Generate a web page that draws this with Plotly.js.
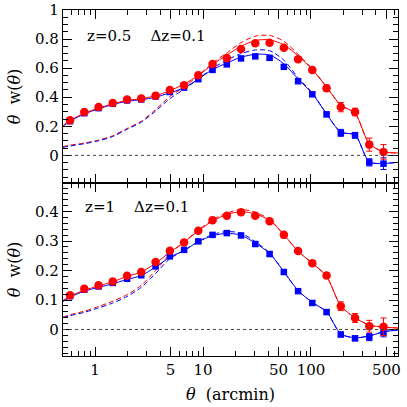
<!DOCTYPE html>
<html><head><meta charset="utf-8">
<script src="https://cdn.plot.ly/plotly-3.0.1.min.js"></script>
<style>html,body{margin:0;padding:0;background:#fff}#chart{width:407px;height:407px}</style>
</head><body><div id="chart"></div>
<script>
// angular bins (arcmin)
const theta = [0.587,0.795,1.078,1.46,1.98,2.68,3.64,4.93,6.68,9.05,12.26,16.62,22.5,30.5,41.4,56.1,76.0,102.9,139.5,189,256,347,470];
// model grid: bins plus the axis edges
const thetaModel = [0.505].concat(theta, [640]);

// top panel z=0.5
const topRed    = [0.242,0.298,0.332,0.360,0.385,0.392,0.411,0.450,0.482,0.552,0.628,0.669,0.731,0.771,0.775,0.741,0.662,0.588,0.462,0.332,0.298,0.074,0.024];
const topRedErr = [0.008,0.008,0.008,0.008,0.008,0.008,0.008,0.008,0.008,0.009,0.010,0.010,0.011,0.012,0.013,0.014,0.016,0.018,0.022,0.032,0.026,0.045,0.05];
const topBlue   = [0.235,0.290,0.325,0.355,0.378,0.385,0.405,0.436,0.466,0.524,0.588,0.626,0.667,0.681,0.671,0.609,0.510,0.420,0.282,0.155,0.138,-0.048,-0.057];
const topBlueErr= [0.006,0.006,0.006,0.006,0.006,0.006,0.006,0.006,0.006,0.007,0.008,0.008,0.009,0.010,0.010,0.011,0.012,0.014,0.016,0.024,0.02,0.025,0.04];
const topRedModel   = [0.205,0.24,0.29,0.325,0.355,0.378,0.39,0.41,0.445,0.49,0.55,0.625,0.69,0.75,0.79,0.795,0.76,0.685,0.59,0.47,0.345,0.29,0.08,0.025,0.017];
const topRedDash    = [0.06,0.07,0.085,0.105,0.135,0.185,0.235,0.315,0.405,0.47,0.55,0.635,0.705,0.775,0.82,0.825,0.785,0.695,0.595,0.47,0.345,0.29,0.08,0.025,0.017];
const topBlueModel  = [0.2,0.235,0.285,0.32,0.35,0.372,0.383,0.4,0.43,0.465,0.525,0.59,0.635,0.675,0.695,0.69,0.63,0.525,0.425,0.285,0.16,0.14,-0.045,-0.055,-0.048];
const topBlueDash   = [0.055,0.065,0.08,0.1,0.13,0.18,0.228,0.305,0.39,0.455,0.525,0.6,0.655,0.7,0.725,0.72,0.655,0.535,0.43,0.285,0.16,0.14,-0.045,-0.055,-0.048];

// bottom panel z=1
const botRed    = [0.116,0.138,0.150,0.163,0.182,0.195,0.229,0.267,0.295,0.335,0.371,0.386,0.398,0.386,0.367,0.321,0.266,0.225,0.183,0.079,0.039,0.011,0.009];
const botRedErr = [0.004,0.004,0.004,0.004,0.004,0.004,0.004,0.004,0.004,0.005,0.005,0.005,0.005,0.005,0.006,0.006,0.007,0.007,0.008,0.015,0.015,0.02,0.03];
const botBlue   = [0.113,0.135,0.146,0.158,0.172,0.184,0.214,0.248,0.270,0.299,0.321,0.327,0.319,0.290,0.256,0.195,0.130,0.090,0.059,-0.017,-0.030,-0.026,-0.010];
const botBlueErr= [0.003,0.003,0.003,0.003,0.003,0.003,0.003,0.003,0.003,0.004,0.004,0.004,0.004,0.004,0.005,0.005,0.005,0.006,0.006,0.008,0.008,0.012,0.015];
const botRedModel  = [0.098,0.113,0.133,0.148,0.162,0.18,0.195,0.225,0.262,0.296,0.335,0.368,0.39,0.40,0.392,0.37,0.322,0.265,0.225,0.18,0.08,0.04,0.015,0.008,0.005];
const botRedDash   = [0.042,0.05,0.062,0.078,0.096,0.118,0.15,0.2,0.255,0.297,0.337,0.372,0.395,0.407,0.398,0.373,0.322,0.265,0.225,0.18,0.08,0.04,0.015,0.008,0.005];
const botBlueModel = [0.095,0.11,0.13,0.143,0.155,0.17,0.183,0.212,0.245,0.268,0.298,0.318,0.326,0.32,0.293,0.258,0.196,0.132,0.092,0.06,-0.015,-0.028,-0.022,-0.008,-0.002];
const botBlueDash  = [0.04,0.047,0.058,0.073,0.09,0.112,0.143,0.19,0.24,0.268,0.298,0.322,0.332,0.327,0.298,0.26,0.196,0.132,0.092,0.06,-0.015,-0.028,-0.022,-0.008,-0.002];

const xTickVals = [1,5,10,50,100,500];
const xTickText = ['1','5','10','50','100','500'];
const xMinor = [0.6,0.7,0.8,0.9,2,3,4,6,7,8,9,20,30,40,60,70,80,90,200,300,400,600];

const RED = '#ff0000', BLUE = '#0000ff';
const FONT = 'DejaVu Serif, Liberation Serif, serif';

function pts(y, err, color, sym, size, xa, ya) {
  return {x: theta, y: y, xaxis: xa, yaxis: ya, type: 'scatter', mode: 'markers',
    marker: {color: color, symbol: sym, size: size},
    error_y: {type: 'data', array: err, color: color, thickness: 1, width: 3},
    showlegend: false, hoverinfo: 'skip'};
}
function line(y, color, dash, xa, ya) {
  return {x: thetaModel, y: y, xaxis: xa, yaxis: ya, type: 'scatter', mode: 'lines',
    line: {color: color, width: 1, dash: dash, shape: 'spline', smoothing: 0.8},
    showlegend: false, hoverinfo: 'skip'};
}

const data = [
  line(topRedDash, RED, '5px,3px', 'x', 'y'),
  line(topBlueDash, BLUE, '5px,3px', 'x', 'y'),
  line(topBlueModel, BLUE, 'solid', 'x', 'y'),
  line(topRedModel, RED, 'solid', 'x', 'y'),
  pts(topBlue, topBlueErr, BLUE, 'square', 6.5, 'x', 'y'),
  pts(topRed, topRedErr, RED, 'circle', 8.5, 'x', 'y'),
  line(botRedDash, RED, '5px,3px', 'x2', 'y2'),
  line(botBlueDash, BLUE, '5px,3px', 'x2', 'y2'),
  line(botBlueModel, BLUE, 'solid', 'x2', 'y2'),
  line(botRedModel, RED, 'solid', 'x2', 'y2'),
  pts(botBlue, botBlueErr, BLUE, 'square', 6.5, 'x2', 'y2'),
  pts(botRed, botRedErr, RED, 'circle', 8.5, 'x2', 'y2')
];

const xrange = [Math.log10(0.505), Math.log10(640)];
function xax(showLabels, anchor) {
  return {type: 'log', range: xrange, anchor: anchor, domain: [0,1],
    tickmode: 'array', tickvals: xTickVals, ticktext: xTickText, showticklabels: showLabels,
    ticks: 'inside', ticklen: 9, tickwidth: 1, tickcolor: '#000',
    minor: {tickvals: xMinor, ticks: 'inside', ticklen: 5, tickwidth: 1, tickcolor: '#000', showgrid: false},
    showline: true, linecolor: '#000', linewidth: 1.2, mirror: 'allticks',
    showgrid: false, zeroline: false,
    tickfont: {family: FONT, size: 15, color: '#000'}};
}
function yax(range, dtick, minorDtick, domain, anchor) {
  return {range: range, domain: domain, anchor: anchor,
    tickmode: 'linear', tick0: 0, dtick: dtick,
    ticks: 'inside', ticklen: 9, tickwidth: 1, tickcolor: '#000',
    minor: {tick0: 0, dtick: minorDtick, ticks: 'inside', ticklen: 5, tickwidth: 1, tickcolor: '#000', showgrid: false},
    showline: true, linecolor: '#000', linewidth: 1.2, mirror: 'allticks',
    showgrid: false, zeroline: false,
    tickfont: {family: FONT, size: 15, color: '#000'},
    title: {text: '<i>θ</i>  w(<i>θ</i>)', font: {family: FONT, size: 16, color: '#000'}, standoff: 10}};
}

const xa2 = xax(true, 'y2');
xa2.title = {text: '<i>θ</i>  (arcmin)', font: {family: FONT, size: 16, color: '#000'}, standoff: 10};
const xa1 = xax(false, 'y');
xa1.matches = 'x2';

const layout = {
  width: 407, height: 407,
  margin: {l: 63, r: 9, t: 10, b: 51},
  paper_bgcolor: '#fff', plot_bgcolor: '#fff',
  font: {family: FONT, color: '#000'},
  xaxis: xa1,
  xaxis2: xa2,
  yaxis: yax([-0.19, 1.0], 0.2, 0.05, [0.5, 1], 'x'),
  yaxis2: yax([-0.09, 0.497], 0.1, 0.02, [0, 0.5], 'x2'),
  shapes: [
    {type: 'line', xref: 'x domain', yref: 'y', x0: 0, x1: 1, y0: 0, y1: 0, line: {color: '#444', width: 1, dash: 'dot'}},
    {type: 'line', xref: 'x2 domain', yref: 'y2', x0: 0, x1: 1, y0: 0, y1: 0, line: {color: '#444', width: 1, dash: 'dot'}}
  ],
  annotations: [
    {xref: 'paper', yref: 'paper', x: 0.065, y: 0.925, xanchor: 'left', yanchor: 'middle', showarrow: false,
     text: 'z=0.5    Δz=0.1', font: {family: FONT, size: 15, color: '#000'}},
    {xref: 'paper', yref: 'paper', x: 0.06, y: 0.43, xanchor: 'left', yanchor: 'middle', showarrow: false,
     text: 'z=1    Δz=0.1', font: {family: FONT, size: 15, color: '#000'}}
  ]
};

Plotly.newPlot('chart', data, layout, {staticPlot: true, displayModeBar: false});
</script></body></html>
